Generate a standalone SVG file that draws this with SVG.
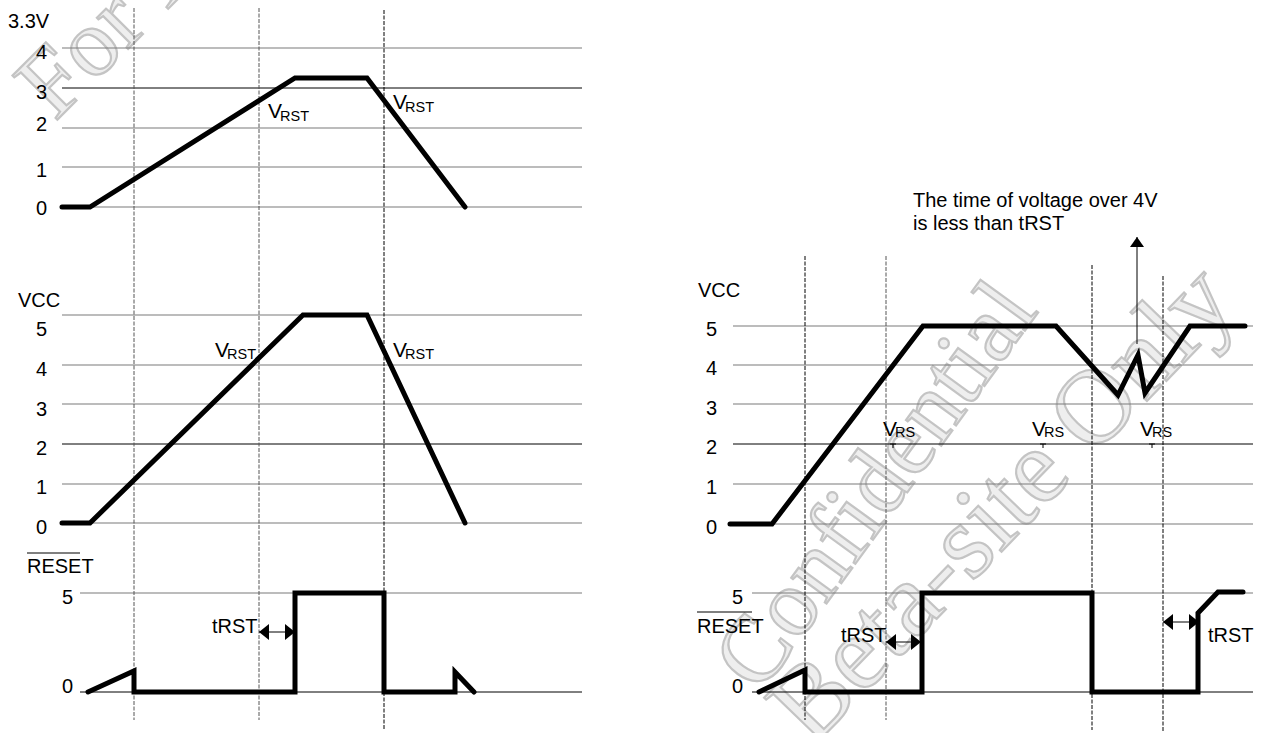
<svg xmlns="http://www.w3.org/2000/svg" width="1263" height="733" viewBox="0 0 1263 733">
<defs>
<style>
.lbl{font-family:"Liberation Sans",Arial,sans-serif;font-size:20px;fill:#000}
.num{font-family:"Liberation Sans",Arial,sans-serif;font-size:20px;fill:#000;text-anchor:end}
.v{font-size:21px}
.sub{font-size:14.5px}
.wm{font-family:"Liberation Serif","Times New Roman",serif;fill:#eeeeee;stroke:#c4c4c4;stroke-width:2.2}
.g{stroke:#7a7a7a;stroke-width:1.2;fill:none}
.k{stroke:#000;stroke-width:1;fill:none}
.d{stroke:#555;stroke-width:1;stroke-dasharray:4 1.5;fill:none}
.dk{stroke:#000;stroke-width:1;stroke-dasharray:4 1.5;fill:none}
.w{stroke:#000;stroke-width:5;fill:none;stroke-linejoin:miter;stroke-linecap:round}
.arr{stroke:#000;stroke-width:1;fill:none}
</style>
<marker id="ah" viewBox="0 -8 10 16" refX="10" refY="0" markerWidth="10" markerHeight="16" markerUnits="userSpaceOnUse" orient="auto-start-reverse">
<path d="M0,-8 L10,0 L0,8 z" fill="#000"/>
</marker>
<marker id="au" viewBox="0 -7 10 14" refX="10" refY="0" markerWidth="10" markerHeight="14" markerUnits="userSpaceOnUse" orient="auto">
<path d="M0,-7 L10,0 L0,7 z" fill="#000"/>
</marker>
</defs>
<rect width="1263" height="733" fill="#fff"/>

<g id="watermark">
<text class="wm" font-size="96" transform="translate(55,122) rotate(-45)">For Beta-site Only</text>
<text class="wm" font-size="95" transform="translate(760,695) rotate(-54)">Confidential</text>
<text class="wm" font-size="106" transform="translate(812,748) rotate(-46)">Beta-site Only</text>
</g>

<g id="grid-left-top">
<line class="g" x1="62" y1="48" x2="582" y2="48"/>
<line class="k" x1="62" y1="88" x2="582" y2="88"/>
<line class="g" x1="62" y1="128" x2="582" y2="128"/>
<line class="g" x1="62" y1="167" x2="582" y2="167"/>
<line class="g" x1="62" y1="207" x2="582" y2="207"/>
</g>
<g id="grid-left-vcc">
<line class="g" x1="62" y1="315" x2="582" y2="315"/>
<line class="g" x1="62" y1="365" x2="582" y2="365"/>
<line class="g" x1="62" y1="404" x2="582" y2="404"/>
<line class="k" x1="62" y1="444" x2="582" y2="444"/>
<line class="g" x1="62" y1="484" x2="582" y2="484"/>
<line class="g" x1="62" y1="523" x2="582" y2="523"/>
</g>
<g id="grid-left-reset">
<line class="g" x1="80" y1="593" x2="582" y2="593"/>
<line class="k" x1="80" y1="692" x2="582" y2="692"/>
</g>
<g id="grid-right-vcc">
<line class="g" x1="733" y1="326" x2="1253" y2="326"/>
<line class="g" x1="733" y1="365" x2="1253" y2="365"/>
<line class="g" x1="733" y1="404" x2="1253" y2="404"/>
<line class="k" x1="733" y1="444" x2="1253" y2="444"/>
<line class="g" x1="733" y1="484" x2="1253" y2="484"/>
<line class="g" x1="733" y1="524" x2="1253" y2="524"/>
</g>
<g id="grid-right-reset">
<line class="g" x1="752" y1="593" x2="1253" y2="593"/>
<line class="k" x1="752" y1="692" x2="1253" y2="692"/>
</g>

<g id="dashed-markers">
<line class="d" x1="134" y1="8" x2="134" y2="720"/>
<line class="d" x1="259" y1="8" x2="259" y2="720"/>
<line class="dk" x1="384" y1="10" x2="384" y2="730"/>
<line class="dk" x1="805" y1="256" x2="805" y2="720"/>
<line class="d" x1="886" y1="256" x2="886" y2="720"/>
<line class="dk" x1="1092" y1="265" x2="1092" y2="730"/>
<line class="dk" x1="1163" y1="276" x2="1163" y2="732"/>
</g>

<g id="axis-labels-left">
<text class="lbl" x="8" y="28">3.3V</text>
<text class="num" x="47" y="59">4</text>
<text class="num" x="47" y="99">3</text>
<text class="num" x="47" y="131">2</text>
<text class="num" x="47" y="177">1</text>
<text class="num" x="47" y="215">0</text>
<text class="lbl" x="18" y="307">VCC</text>
<text class="num" x="47" y="336">5</text>
<text class="num" x="47" y="376">4</text>
<text class="num" x="47" y="416">3</text>
<text class="num" x="47" y="455">2</text>
<text class="num" x="47" y="494">1</text>
<text class="num" x="47" y="534">0</text>
<line x1="27" y1="553" x2="80" y2="553" stroke="#000" stroke-width="1"/>
<text class="lbl" x="27" y="573">RESET</text>
<text class="num" x="73" y="604">5</text>
<text class="num" x="73" y="693">0</text>
</g>

<g id="axis-labels-right">
<text class="lbl" x="698" y="297">VCC</text>
<text class="num" x="717" y="336">5</text>
<text class="num" x="717" y="375">4</text>
<text class="num" x="717" y="415">3</text>
<text class="num" x="717" y="454">2</text>
<text class="num" x="717" y="494">1</text>
<text class="num" x="717" y="534">0</text>
<text class="num" x="743" y="604">5</text>
<line x1="697" y1="612" x2="752" y2="612" stroke="#000" stroke-width="1"/>
<text class="lbl" x="697" y="633">RESET</text>
<text class="num" x="743" y="693">0</text>
</g>

<g id="waveforms">
<polyline class="w" points="62,207 90,207 295,78 367,78 465,207"/>
<polyline class="w" points="62,523 90,523 303,315 367,315 465,523"/>
<polyline class="w" points="88,692 134,671 134,692 295,692 295,593 384,593 384,692 455,692 455,672 474,692"/>
<polyline class="w" points="730,524 772,524 923,326 1056,326 1118,395 1138,355 1145,393 1190,326 1245,326"/>
<polyline class="w" points="759,692 805,670 805,692 922,692 922,593 1092,593 1092,692 1198,692 1198,613 1218,592 1243,592"/>
</g>

<g id="threshold-labels">
<text class="lbl v" x="268" y="118">V<tspan class="sub" dx="-2" dy="3">RST</tspan></text>
<text class="lbl v" x="393" y="109">V<tspan class="sub" dx="-2" dy="3">RST</tspan></text>
<text class="lbl v" x="215" y="357">V<tspan class="sub" dx="-2" dy="2">RST</tspan></text>
<text class="lbl v" x="393" y="357">V<tspan class="sub" dx="-2" dy="2">RST</tspan></text>
<text class="lbl v" x="883" y="436">V<tspan class="sub" dx="-2" dy="1">RS</tspan></text>
<text class="lbl v" x="1032" y="436">V<tspan class="sub" dx="-2" dy="1">RS</tspan></text>
<text class="lbl v" x="1140" y="436">V<tspan class="sub" dx="-2" dy="1">RS</tspan></text>
<path d="M890,444 H896 M893,444 V448 M1040,444 H1046 M1043,444 V448 M1149,444 H1155 M1152,444 V448" stroke="#000" stroke-width="1" fill="none"/>
</g>

<g id="connectors">
<line class="arr" x1="259" y1="632" x2="295" y2="632" marker-start="url(#ah)" marker-end="url(#ah)"/>
<line class="arr" x1="886" y1="642" x2="921" y2="642" marker-start="url(#ah)" marker-end="url(#ah)"/>
<line class="arr" x1="1163" y1="622" x2="1199" y2="622" marker-start="url(#ah)" marker-end="url(#ah)"/>
<line class="arr" x1="1137" y1="344" x2="1137" y2="237" marker-end="url(#au)"/>
</g>

<g id="annotations">
<text class="lbl" x="212" y="633">tRST</text>
<text class="lbl" x="841" y="642">tRST</text>
<text class="lbl" x="1208" y="642">tRST</text>
<text class="lbl" x="913" y="207">The time of voltage over 4V</text>
<text class="lbl" x="913" y="230">is less than tRST</text>
</g>
</svg>
